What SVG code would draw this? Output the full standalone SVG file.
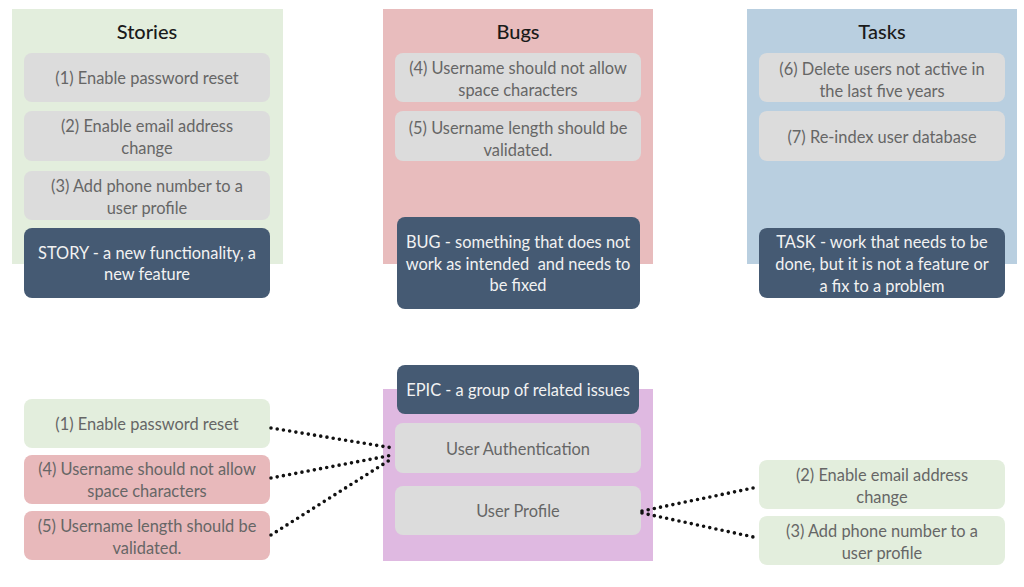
<svg xmlns="http://www.w3.org/2000/svg" width="1024" height="587" viewBox="0 0 1024 587">
<style>
text{font-family:Lato,"Open Sans","Liberation Sans",sans-serif;text-anchor:middle;white-space:pre}
.t{font-size:16.4px;fill:#666}
.w{font-size:16.4px;fill:#f2f2f2}
.h{font-size:20px;fill:#1a1a1a;font-weight:500}
.g{fill:#dcdcdc}
.d{fill:#455a73}
.con{fill:none;stroke:#111;stroke-width:3.6;stroke-linecap:round;stroke-dasharray:0 6.3}
</style>
<rect width="1024" height="587" fill="#fff"/>
<g id="stories">
<rect x="12" y="9" width="271" height="255" fill="#e3eedd"/>
<text class="h" x="147" y="39">Stories</text>
<rect class="g" x="24" y="53" width="246" height="49" rx="8"/>
<text class="t" x="147" y="84">(1) Enable password reset</text>
<rect class="g" x="24" y="111" width="246" height="50" rx="8"/>
<text class="t" x="147" y="132">(2) Enable email address</text>
<text class="t" x="147" y="154">change</text>
<rect class="g" x="24" y="171" width="246" height="49" rx="8"/>
<text class="t" x="147" y="192">(3) Add phone number to a</text>
<text class="t" x="147" y="214">user profile</text>
<rect class="d" x="24" y="228" width="246" height="70" rx="8"/>
<text class="w" x="147" y="259">STORY - a new functionality, a</text>
<text class="w" x="147" y="280">new feature</text>
</g>
<g id="bugs">
<rect x="383" y="9" width="270" height="255" fill="#e8bcbd"/>
<text class="h" x="518" y="39">Bugs</text>
<rect class="g" x="395" y="53" width="246" height="49" rx="8"/>
<text class="t" x="518" y="74">(4) Username should not allow</text>
<text class="t" x="518" y="96">space characters</text>
<rect class="g" x="395" y="111" width="246" height="50" rx="8"/>
<text class="t" x="518" y="134">(5) Username length should be</text>
<text class="t" x="518" y="156">validated.</text>
<rect class="d" x="397" y="217" width="243" height="92" rx="8"/>
<text class="w" x="518" y="248">BUG - something that does not</text>
<text class="w" x="518" y="270">work as intended  and needs to</text>
<text class="w" x="518" y="291">be fixed</text>
</g>
<g id="tasks">
<rect x="747" y="9" width="270" height="255" fill="#b9cfe0"/>
<text class="h" x="882" y="39">Tasks</text>
<rect class="g" x="759" y="53" width="246" height="49" rx="8"/>
<text class="t" x="882" y="75">(6) Delete users not active in</text>
<text class="t" x="882" y="97">the last five years</text>
<rect class="g" x="759" y="111" width="246" height="50" rx="8"/>
<text class="t" x="882" y="143">(7) Re-index user database</text>
<rect class="d" x="759" y="228" width="246" height="70" rx="8"/>
<text class="w" x="882" y="248">TASK - work that needs to be</text>
<text class="w" x="882" y="270">done, but it is not a feature or</text>
<text class="w" x="882" y="292">a fix to a problem</text>
</g>
<g id="epic">
<rect x="383" y="389" width="270" height="172" fill="#dfb9e1"/>
<rect class="d" x="397" y="365" width="242" height="49" rx="8"/>
<text class="w" x="518" y="396">EPIC - a group of related issues</text>
<rect class="g" x="395" y="423" width="246" height="50" rx="8"/>
<text class="t" x="518" y="455">User Authentication</text>
<rect class="g" x="395" y="486" width="246" height="49" rx="8"/>
<text class="t" x="518" y="517">User Profile</text>
</g>
<g id="b1">
<rect x="24" y="399" width="246" height="49" rx="8" fill="#e3eedd"/>
<text class="t" x="147" y="430">(1) Enable password reset</text>
</g>
<g id="b4">
<rect x="24" y="455" width="246" height="49" rx="8" fill="#e8b9bb"/>
<text class="t" x="147" y="475">(4) Username should not allow</text>
<text class="t" x="147" y="497">space characters</text>
</g>
<g id="b5">
<rect x="24" y="511" width="246" height="49" rx="8" fill="#e8b9bb"/>
<text class="t" x="147" y="532">(5) Username length should be</text>
<text class="t" x="147" y="554">validated.</text>
</g>
<g id="b2">
<rect x="759" y="460" width="246" height="49" rx="8" fill="#e3eedd"/>
<text class="t" x="882" y="481">(2) Enable email address</text>
<text class="t" x="882" y="503">change</text>
</g>
<g id="b3">
<rect x="759" y="516" width="246" height="49" rx="8" fill="#e3eedd"/>
<text class="t" x="882" y="537">(3) Add phone number to a</text>
<text class="t" x="882" y="559">user profile</text>
</g>
<g id="connectors">
<path class="con" d="M271 428 L393 448"/>
<path class="con" d="M271 478 L393 455"/>
<path class="con" d="M271 535 L393 458"/>
<path class="con" d="M642 511 L758 487"/>
<path class="con" d="M642 513 L758 538"/>
</g>
</svg>
